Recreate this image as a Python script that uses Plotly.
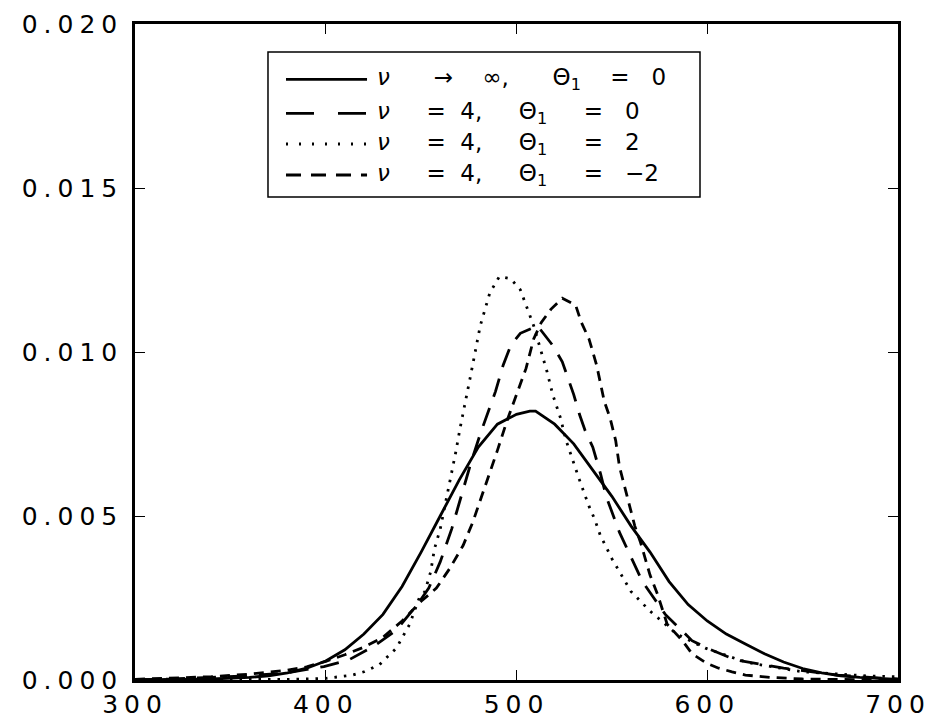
import plotly.graph_objects as go

# nu -> infinity, Theta1 = 0 (solid)
x_solid = [300, 320, 340, 360, 370, 380, 390, 400, 410, 420, 430, 440, 450, 460, 470, 480, 490, 500, 507,
           510, 520, 530, 540, 550, 560, 570, 580, 590, 600, 610, 620, 630, 640, 650, 660, 670, 680, 690, 700]
y_solid = [0.00000, 0.00001, 0.00003, 0.00008, 0.00013, 0.00022, 0.00036, 0.00058, 0.00092, 0.0014, 0.0020,
           0.00285, 0.0039, 0.0050, 0.0061, 0.0071, 0.0078, 0.0081, 0.0082, 0.0082, 0.0078, 0.0072, 0.0064,
           0.0056, 0.0047, 0.0039, 0.0030, 0.0023, 0.0018, 0.0014, 0.0011, 0.0008, 0.00055, 0.00035, 0.00022,
           0.00013, 0.00008, 0.00004, 0.00002]

# nu = 4, Theta1 = 0 (long dash)
x_ld = [300, 320, 340, 360, 380, 388, 399, 412, 425, 437, 448, 454, 460, 466, 471, 476, 481, 484, 489, 493,
        497, 502, 511, 519, 524, 527, 530, 533, 536, 540, 544, 547, 550, 554, 558, 562, 566, 572, 578, 585,
        592, 600, 615, 640, 668, 694, 700]
y_ld = [0.00001, 0.00003, 0.00008, 0.00013, 0.00022, 0.0003, 0.00041, 0.00061, 0.00102, 0.00152, 0.0023,
        0.0028, 0.0036, 0.0046, 0.0056, 0.0066, 0.0075, 0.0080, 0.0088, 0.0096, 0.0102, 0.01057, 0.0108,
        0.0102, 0.0097, 0.0092, 0.0087, 0.0081, 0.0076, 0.0071, 0.0063, 0.0056, 0.0051, 0.0045, 0.0040,
        0.0035, 0.0030, 0.0025, 0.0020, 0.0016, 0.0012, 0.00097, 0.00061, 0.00036, 0.00015, 0.00005, 0.00003]

# nu = 4, Theta1 = 2 (dotted)
x_dot = [300, 350, 380, 400, 414, 420, 428, 437, 444, 449, 452, 455, 457, 460, 462.5, 465, 468, 470.5, 473,
         476, 481, 486, 491, 497, 502, 505, 509, 512, 516, 519, 523, 526, 530, 533, 538, 541, 544, 550, 555,
         560, 565, 570, 574, 584, 599, 617, 624, 638, 650, 664, 685, 700]
y_dot = [0.0, 0.00001, 0.00002, 0.00005, 0.00015, 0.00025, 0.00046, 0.00097, 0.0017, 0.0025, 0.0027, 0.0033,
         0.0040, 0.0046, 0.0053, 0.0061, 0.0069, 0.0077, 0.0084, 0.0093, 0.0108, 0.0118, 0.0123, 0.01223,
         0.0119, 0.0114, 0.0108, 0.0102, 0.0094, 0.0087, 0.0080, 0.0073, 0.0066, 0.0061, 0.0053, 0.0049,
         0.0044, 0.0037, 0.0032, 0.0027, 0.0024, 0.0021, 0.0019, 0.0014, 0.00097, 0.00061, 0.0005, 0.00036,
         0.00025, 0.0002, 0.00012, 0.0001]

# nu = 4, Theta1 = -2 (short dash)
x_sd = [300, 320, 340, 360, 380, 390, 400, 410, 420, 430, 440, 450, 458, 465, 472, 477, 483, 490, 495, 500,
        505, 509, 513, 518, 524, 531, 534, 538, 542, 546, 549, 552, 554, 558, 562, 565, 570, 574, 579, 587,
        592, 600, 606, 613, 620, 633, 650, 700]
y_sd = [0.00002, 0.00005, 0.0001, 0.00018, 0.0003, 0.0004, 0.00057, 0.00077, 0.001, 0.0013, 0.0018, 0.0024,
        0.0028, 0.0034, 0.0041, 0.0048, 0.0058, 0.0070, 0.0079, 0.0087, 0.0095, 0.0104, 0.0109, 0.0113,
        0.01164, 0.01143, 0.0109, 0.0104, 0.0096, 0.0085, 0.0080, 0.0073, 0.0065, 0.0056, 0.0047, 0.0042,
        0.0032, 0.0026, 0.0017, 0.0012, 0.0008, 0.0005, 0.00036, 0.00025, 0.00015, 0.00008, 0.00003, 0.0]

S = "\u00a0"
legend_labels = [
    "<i>ν</i>" + S * 6 + "→" + S * 4 + "∞," + S * 6 + "Θ<sub>1</sub>" + S * 4 + "=" + S * 3 + "0",
    "<i>ν</i>" + S * 5 + "=" + S * 2 + "4," + S * 5 + "Θ<sub>1</sub>" + S * 5 + "=" + S * 3 + "0",
    "<i>ν</i>" + S * 5 + "=" + S * 2 + "4," + S * 5 + "Θ<sub>1</sub>" + S * 5 + "=" + S * 3 + "2",
    "<i>ν</i>" + S * 5 + "=" + S * 2 + "4," + S * 5 + "Θ<sub>1</sub>" + S * 5 + "=" + S * 3 + "−2",
]

x_ticks = [300, 400, 500, 600, 700]
y_ticks = [0.000, 0.005, 0.010, 0.015, 0.020]
y_ticktext = ["0.000", "0.005", "0.010", "0.015", "0.020"]

FONT = "DejaVu Sans"

fig = go.Figure()
trace_dashes = ["solid", "19px,12px", "2.5px,7px", "10px,7px"]
legend_dashes = ["solid", "28px,24px", "2px,11px", "15px,10px"]
series = [(x_solid, y_solid), (x_ld, y_ld), (x_dot, y_dot), (x_sd, y_sd)]
for (xs, ys), dash, name in zip(series, trace_dashes, legend_labels):
    fig.add_trace(go.Scatter(x=xs, y=ys, mode="lines", name=name, showlegend=False,
                             line=dict(color="black", width=2.8, dash=dash)))

# manual legend (paper coordinates)
LX0, LX1, LY0, LY1 = 0.1743, 0.7405, 0.7363, 0.9573
fig.add_shape(type="rect", xref="paper", yref="paper", x0=LX0, x1=LX1, y0=LY0, y1=LY1,
              line=dict(color="black", width=1.5), fillcolor="white", layer="above")
row_y = [0.9157, 0.8639, 0.8171, 0.7698]
for ry, dash, name in zip(row_y, legend_dashes, legend_labels):
    fig.add_shape(type="line", xref="paper", yref="paper", x0=0.1979, x1=0.3041, y0=ry, y1=ry,
                  line=dict(color="black", width=2.8, dash=dash), layer="above")
    fig.add_annotation(xref="paper", yref="paper", x=0.3150, y=ry, xanchor="left", yanchor="middle",
                       text=name, showarrow=False,
                       font=dict(family=FONT, size=23, color="black"))

axis_common = dict(showline=True, linecolor="black", linewidth=2.5, mirror="ticks",
                   ticks="inside", ticklen=10, tickwidth=1, tickcolor="black",
                   showgrid=False, zeroline=False, automargin=False,
                   tickfont=dict(family=FONT, size=25, color="black"))

fig.update_xaxes(range=[300, 700], tickvals=x_ticks, **axis_common)
fig.update_yaxes(range=[0, 0.020], tickvals=y_ticks, ticktext=y_ticktext,
                 ticklabelstandoff=4, **axis_common)

fig.update_layout(
    width=936, height=723,
    margin=dict(l=135, r=38, t=24, b=43),
    paper_bgcolor="white", plot_bgcolor="white",
    showlegend=False,
)

post = """
var gd = document.getElementById('{plot_id}');
function fixStyle() {
  document.body.style.margin = '0';
  document.body.style.padding = '0';
  gd.querySelectorAll('.xtick text, .ytick text').forEach(function (t) {
    t.style.letterSpacing = '6px';
  });
}
fixStyle();
gd.on('plotly_afterplot', fixStyle);
"""

fig.write_html("out.html", post_script=post, config={"displayModeBar": False})
